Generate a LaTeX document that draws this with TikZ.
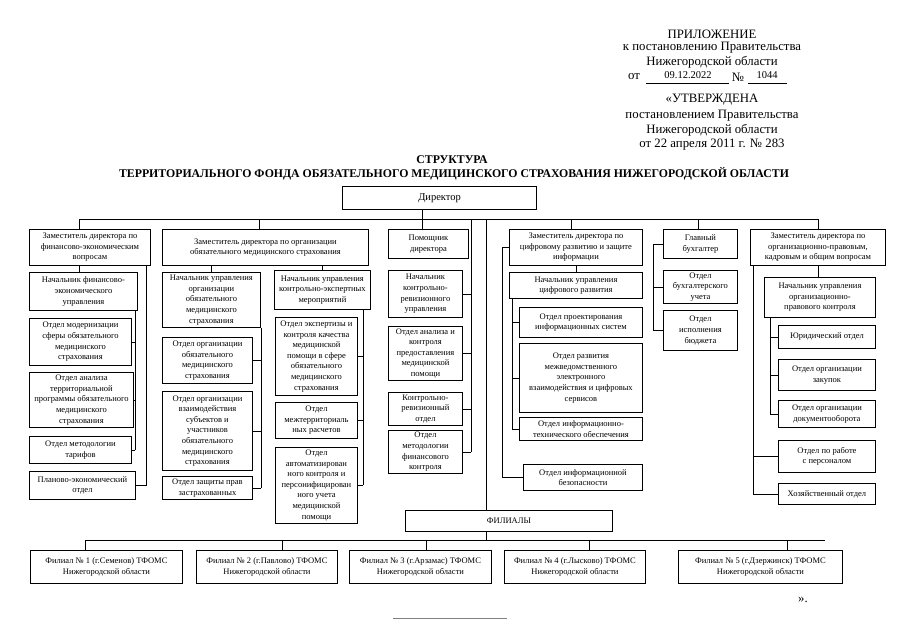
\documentclass[tikz,border=0pt]{standalone}
\usepackage{fontspec}
\setmainfont{Liberation Serif}
\usetikzlibrary{positioning}

\newcommand{\boxfont}{\fontsize{8.5}{10.6}\selectfont}
\newcommand{\headfont}{\fontsize{12.8}{14}\selectfont}
\newcommand{\titlefont}{\fontsize{11.8}{13}\selectfont\bfseries}

\tikzset{
  box/.style={draw, line width=0.9pt, anchor=north west, align=center, inner sep=0pt, font=\boxfont},
  link/.style={line width=0.7pt},
  head/.style={font=\headfont, inner sep=0pt},
}

\begin{document}
\begin{tikzpicture}[x=1pt, y=-1pt]
    \useasboundingbox (0,0) rectangle (905,640);

    % header
    \node[head] (pril) at (712,34) {ПРИЛОЖЕНИЕ};
    \node[head] (pril2) at (712,48) {к постановлению Правительства};
    \node[head] (pril3) at (712,62) {Нижегородской области};
    \node[head] (ot) at (634,77) {от};
    \node[font=\fontsize{10.5}{12}\selectfont, inner sep=0pt] (date) at (688,75) {09.12.2022};
    \node[head] (nomer) at (738,77) {№};
    \node[font=\fontsize{10.5}{12}\selectfont, inner sep=0pt] (num) at (767,75) {1044};
    \draw[line width=0.5pt] (646,83) -- (729,83);
    \draw[line width=0.5pt] (748,83) -- (787,83);
    \node[head] (utv) at (712,100) {«УТВЕРЖДЕНА};
    \node[head] (utv2) at (712,116) {постановлением Правительства};
    \node[head] (utv3) at (712,130) {Нижегородской области};
    \node[head] (utv4) at (712,145) {от 22 апреля 2011 г. № 283};

    % title
    \node[font=\titlefont, inner sep=0pt] (title) at (452,160) {СТРУКТУРА};
    \node[font=\titlefont, inner sep=0pt] (title2) at (454,174) {ТЕРРИТОРИАЛЬНОГО ФОНДА ОБЯЗАТЕЛЬНОГО МЕДИЦИНСКОГО СТРАХОВАНИЯ НИЖЕГОРОДСКОЙ ОБЛАСТИ};

    % top level
    \node[box, line width=1.1pt, font=\fontsize{10.5}{12}\selectfont, minimum width=194pt, minimum height=23pt] (director) at (342,186) {Директор};
    \node[box, minimum width=121pt, minimum height=36pt] (zamfin) at (29,229) {Заместитель директора по\\финансово-экономическим\\вопросам};
    \node[box, minimum width=206pt, minimum height=36pt] (zamoms) at (162,229) {Заместитель директора по организации\\обязательного медицинского страхования};
    \node[box, minimum width=80pt, minimum height=29pt] (pomdir) at (388,229) {Помощник\\директора};
    \node[box, minimum width=133pt, minimum height=36pt] (zamcif) at (509,229) {Заместитель директора по\\цифровому развитию и защите\\информации};
    \node[box, minimum width=74pt, minimum height=29pt] (glbuh) at (663,229) {Главный\\бухгалтер};
    \node[box, minimum width=135pt, minimum height=36pt] (zamorg) at (750,229) {Заместитель директора по\\организационно-правовым,\\кадровым и общим вопросам};

    % finance
    \node[box, minimum width=108pt, minimum height=38pt] (nachfin) at (29,272) {Начальник финансово-\\экономического\\управления};
    \node[box, minimum width=102pt, minimum height=47pt] (otdmod) at (29,318) {Отдел модернизации\\сферы обязательного\\медицинского\\страхования};
    \node[box, minimum width=104pt, minimum height=55pt] (otdtp) at (29,372) {Отдел анализа\\территориальной\\программы обязательного\\медицинского\\страхования};
    \node[box, minimum width=102pt, minimum height=27pt] (otdtar) at (29,436) {Отдел методологии\\тарифов};
    \node[box, minimum width=106pt, minimum height=28pt] (otdplan) at (29,471) {Планово-экономический\\отдел};

    % compulsory insurance
    \node[box, minimum width=98pt, minimum height=55pt] (nachoms) at (162,272) {Начальник управления\\организации\\обязательного\\медицинского\\страхования};
    \node[box, minimum width=90pt, minimum height=46pt] (otdoms) at (162,337) {Отдел организации\\обязательного\\медицинского\\страхования};
    \node[box, minimum width=90pt, minimum height=79pt] (otdvz) at (162,391) {Отдел организации\\взаимодействия\\субъектов и\\участников\\обязательного\\медицинского\\страхования};
    \node[box, minimum width=90pt, minimum height=23pt] (otdzpz) at (162,476) {Отдел защиты прав\\застрахованных};
    \node[box, minimum width=96pt, minimum height=39pt] (nachkem) at (274,270) {Начальник управления\\контрольно-экспертных\\мероприятий};
    \node[box, minimum width=82pt, minimum height=78pt] (otdekk) at (275,317) {Отдел экспертизы и\\контроля качества\\медицинской\\помощи в сфере\\обязательного\\медицинского\\страхования};
    \node[box, minimum width=82pt, minimum height=36pt] (otdmtr) at (275,402) {Отдел\\межтерриториаль\\ных расчетов};
    \node[box, minimum width=82pt, minimum height=76pt] (otdapu) at (275,447) {Отдел\\автоматизирован\\ного контроля и\\персонифицирован\\ного учета\\медицинской\\помощи};

    % audit
    \node[box, minimum width=74pt, minimum height=47pt] (nachkru) at (388,270) {Начальник\\контрольно-\\ревизионного\\управления};
    \node[box, minimum width=74pt, minimum height=54pt] (otdakp) at (388,326) {Отдел анализа и\\контроля\\предоставления\\медицинской\\помощи};
    \node[box, minimum width=74pt, minimum height=33pt] (otdkro) at (388,392) {Контрольно-\\ревизионный\\отдел};
    \node[box, minimum width=74pt, minimum height=43pt] (otdmfk) at (388,430) {Отдел\\методологии\\финансового\\контроля};

    % digital
    \node[box, minimum width=133pt, minimum height=26pt] (nachcif) at (509,272) {Начальник управления\\цифрового развития};
    \node[box, minimum width=123pt, minimum height=30pt] (otdpis) at (519,307) {Отдел проектирования\\информационных систем};
    \node[box, minimum width=123pt, minimum height=69pt] (otdmev) at (519,343) {Отдел развития\\межведомственного\\электронного\\взаимодействия и цифровых\\сервисов};
    \node[box, minimum width=123pt, minimum height=23pt] (otdito) at (519,417) {Отдел информационно-\\технического обеспечения};
    \node[box, minimum width=119pt, minimum height=26pt] (otdib) at (523,464) {Отдел информационной\\безопасности};

    % accounting
    \node[box, minimum width=74pt, minimum height=33pt] (otdbu) at (663,270) {Отдел\\бухгалтерского\\учета};
    \node[box, minimum width=74pt, minimum height=40pt] (otdisp) at (663,310) {Отдел\\исполнения\\бюджета};

    % legal and general
    \node[box, minimum width=111pt, minimum height=40pt] (nachopk) at (764,277) {Начальник управления\\организационно-\\правового контроля};
    \node[box, minimum width=97pt, minimum height=23pt] (otdjur) at (778,325) {Юридический отдел};
    \node[box, minimum width=97pt, minimum height=31pt] (otdzak) at (778,359) {Отдел организации\\закупок};
    \node[box, minimum width=97pt, minimum height=27pt] (otddok) at (778,400) {Отдел организации\\документооборота};
    \node[box, minimum width=97pt, minimum height=32pt] (otdper) at (778,440) {Отдел по работе\\с персоналом};
    \node[box, minimum width=97pt, minimum height=21pt] (otdhoz) at (778,483) {Хозяйственный отдел};

    % branches
    \node[box, minimum width=207pt, minimum height=21pt] (filialy) at (405,510) {ФИЛИАЛЫ};
    \node[box, minimum width=152pt, minimum height=33pt] (fil1) at (30,550) {Филиал № 1 (г.Семенов) ТФОМС\\Нижегородской области};
    \node[box, minimum width=141pt, minimum height=33pt] (fil2) at (196,550) {Филиал № 2 (г.Павлово) ТФОМС\\Нижегородской области};
    \node[box, minimum width=142pt, minimum height=33pt] (fil3) at (349,550) {Филиал № 3 (г.Арзамас) ТФОМС\\Нижегородской области};
    \node[box, minimum width=141pt, minimum height=33pt] (fil4) at (504,550) {Филиал № 4 (г.Лысково) ТФОМС\\Нижегородской области};
    \node[box, minimum width=164pt, minimum height=33pt] (fil5) at (678,550) {Филиал № 5 (г.Дзержинск) ТФОМС\\Нижегородской области};

    \node[head] (kav) at (803,600) {».};

    % taps on the buses
    \foreach \n/\x in {fin/79, oms/259, dir/422, kru/471, fil/486, cif/571, buh/698, org/818}
        \coordinate (tap-\n) at (\x,219);
    \foreach \n/\x in {1/85, 2/282, 3/426, 4/589, 5/787}
        \coordinate (ftap\n) at (\x,540);
    \coordinate (ftapR) at (825,540);
    \coordinate (fin-v) at (135,0);
    \coordinate (fin-w) at (146,0);
    \coordinate (kem-v) at (363,0);
    \coordinate (cif-v) at (512,0);
    \coordinate (cif-w) at (502,0);
    \coordinate (buh-v) at (653,0);
    \coordinate (org-v) at (770,0);
    \coordinate (org-w) at (753,0);

    % lines from the director
    \draw[link] (tap-fin) -- (tap-org);
    \draw[link] (director.south -| tap-dir) -- (tap-dir |- pomdir.north);
    \foreach \n/\b in {fin/zamfin, oms/zamoms, cif/zamcif, buh/glbuh, org/zamorg}
        \draw[link] (tap-\n) -- (tap-\n |- \b.north);
    \draw[link] (tap-kru) -- (tap-kru |- otdmfk.east);
    \draw[link] (tap-fil) -- (tap-fil |- filialy.north);

    % finance lines
    \draw[link] (tap-fin |- zamfin.south) -- (tap-fin |- nachfin.north);
    \draw[link] (fin-v |- nachfin.south) -- (fin-v |- otdtar.east);
    \foreach \n in {otdmod, otdtp, otdtar}
        \draw[link] (fin-v |- \n.east) -- (\n.east);
    \draw[link] (fin-w |- zamfin.south) |- (otdplan.east);

    % insurance lines
    \draw[link] (nachoms.north) -- (nachoms.north |- zamoms.south);
    \draw[link] (nachkem.north) -- (nachkem.north |- zamoms.south);
    \draw[link] (nachoms.south east) -- (nachoms.south east |- otdzpz.east);
    \foreach \n in {otdoms, otdvz, otdzpz}
        \draw[link] (nachoms.south east |- \n.east) -- (\n.east);
    \draw[link] (kem-v |- nachkem.south) -- (kem-v |- otdapu.east);
    \foreach \n in {otdekk, otdmtr, otdapu}
        \draw[link] (kem-v |- \n.east) -- (\n.east);

    % audit lines
    \foreach \n in {nachkru, otdakp, otdkro, otdmfk}
        \draw[link] (tap-kru |- \n.east) -- (\n.east);

    % digital lines
    \draw[link] (zamcif.south) -- (nachcif.north);
    \draw[link] (cif-v |- nachcif.south) -- (cif-v |- otdito.west);
    \foreach \n in {otdpis, otdmev, otdito}
        \draw[link] (cif-v |- \n.west) -- (\n.west);
    \draw[link] (zamcif.west) -| (cif-w |- otdib.west) -- (otdib.west);

    % accounting lines
    \draw[link] (glbuh.west) -| (buh-v |- otdisp.west) -- (otdisp.west);
    \draw[link] (buh-v |- otdbu.west) -- (otdbu.west);

    % legal lines
    \draw[link] (tap-org |- zamorg.south) -- (tap-org |- nachopk.north);
    \draw[link] (org-v |- nachopk.south) -- (org-v |- otddok.west);
    \foreach \n in {otdjur, otdzak, otddok}
        \draw[link] (org-v |- \n.west) -- (\n.west);
    \draw[link] (org-w |- zamorg.south) -- (org-w |- otdhoz.west);
    \foreach \n in {otdper, otdhoz}
        \draw[link] (org-w |- \n.west) -- (\n.west);

    % branch lines
    \draw[link] (tap-fil |- filialy.south) -- (tap-fil |- ftap1);
    \draw[link] (ftap1) -- (ftapR);
    \foreach \n in {1,...,5}
        \draw[link] (ftap\n) -- (ftap\n |- fil\n.north);

    % footer line
    \draw[gray, line width=0.6pt] (393,618) -- (507,618);

\end{tikzpicture}
\end{document}
